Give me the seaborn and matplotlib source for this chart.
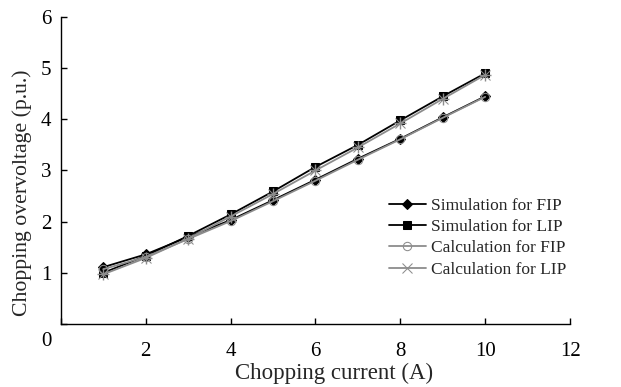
import numpy as np
import pandas as pd
import matplotlib.pyplot as plt
import matplotlib.transforms as mtransforms
import seaborn as sns

sns.set_theme(style="ticks")
plt.rcParams['font.family'] = ['Liberation Serif', 'DejaVu Serif']

# data
current = [1, 2, 3, 4, 5, 6, 7, 8, 9, 10]
sim_fip = [1.11, 1.36, 1.70, 2.03, 2.42, 2.82, 3.23, 3.62, 4.04, 4.45]
sim_lip = [1.00, 1.33, 1.72, 2.14, 2.59, 3.07, 3.50, 3.98, 4.45, 4.90]
calc_fip = [1.07, 1.31, 1.66, 2.01, 2.40, 2.80, 3.21, 3.61, 4.03, 4.44]
calc_lip = [0.97, 1.29, 1.67, 2.10, 2.54, 3.00, 3.45, 3.92, 4.40, 4.87]

x_ticks = [0, 2, 4, 6, 8, 10, 12]
x_labels = ["", "2", "4", "6", "8", "10", "12"]  # origin "0" is shared with y axis
y_ticks = [0, 1, 2, 3, 4, 5, 6]

series = [
    ("Simulation for FIP", sim_fip, "black", "D", "black", 5),
    ("Simulation for LIP", sim_lip, "black", "s", "black", 6),
    ("Calculation for FIP", calc_fip, "#8c8c8c", "o", "none", 6),
    ("Calculation for LIP", calc_lip, "#8c8c8c", "x", "#8c8c8c", 7),
]

fig = plt.figure(figsize=(6.21, 3.87), dpi=100)
ax = fig.add_axes([0.098, 0.163, 0.82, 0.793])

for name, vals, color, marker, face, ms in series:
    df = pd.DataFrame({"current": current, "value": vals})
    sns.lineplot(data=df, x="current", y="value", ax=ax, color=color,
                 marker=marker, markersize=ms, markerfacecolor=face,
                 markeredgecolor=color, linewidth=1.3, label=name)
    if marker == "x":
        # overlay a plus to get an asterisk-like marker
        ax.plot(current, vals, linestyle="none", marker="+", markersize=ms + 1,
                color=color, markeredgewidth=1.0)

ax.set_xlim(0, 12)
ax.set_ylim(0, 6)
ax.set_xticks(x_ticks)
ax.set_xticklabels(x_labels)
ax.set_yticks(y_ticks)
ax.tick_params(direction="in", length=4, width=1, labelsize=15, colors="black")
ax.tick_params(axis="x", pad=13)
ax.tick_params(axis="y", pad=7)
for s in ["top", "right"]:
    ax.spines[s].set_visible(False)
for s in ["left", "bottom"]:
    ax.spines[s].set_color("black")
    ax.spines[s].set_linewidth(1)

# push the y "0" label down, below the axis corner
lbl0 = ax.get_yticklabels()[0]
lbl0.set_transform(lbl0.get_transform() +
                   mtransforms.ScaledTranslation(0, -15 / 100, fig.dpi_scale_trans))

ax.set_xlabel("Chopping current (A)", fontsize=16.5)
ax.set_ylabel("Chopping overvoltage (p.u.)", fontsize=15.7)
ax.xaxis.set_label_coords(0.536, -0.128)
ax.yaxis.set_label_coords(-0.056, 0.427)

ax.legend(loc="center left", bbox_to_anchor=(0.614, 0.281), frameon=False,
          fontsize=12.5, handlelength=2.1, handletextpad=0.3, labelspacing=0.3)

fig.savefig("out.png", dpi=100)
